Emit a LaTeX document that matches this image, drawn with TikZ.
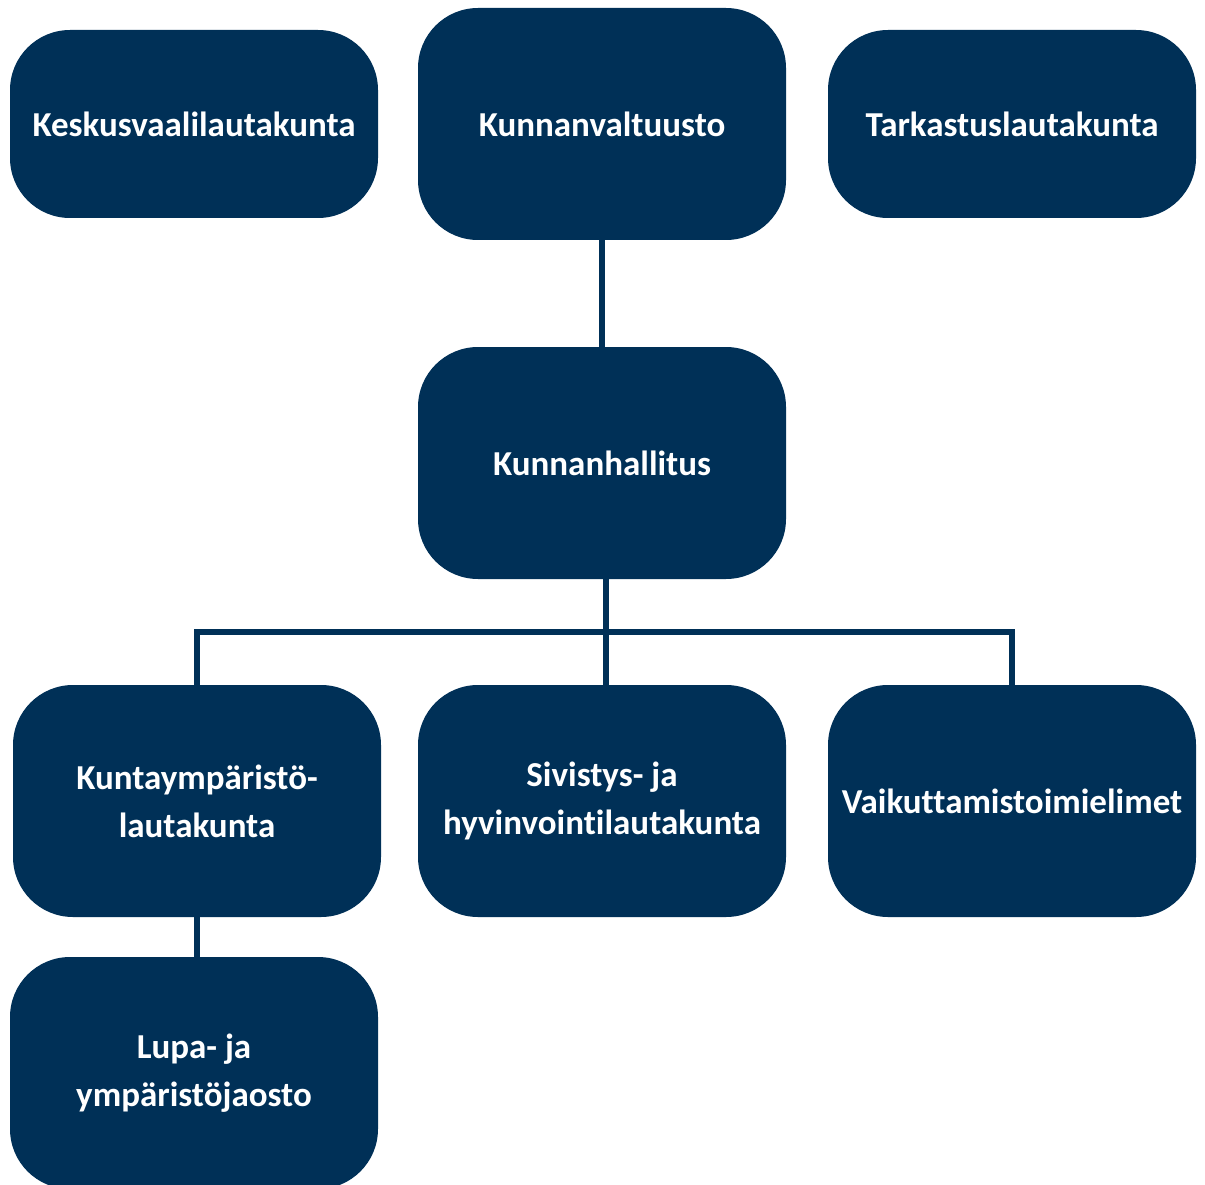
\documentclass[tikz,border=0pt]{standalone}
\usepackage{fontspec}
\setmainfont[Ligatures=NoCommon]{Carlito}
\definecolor{navy}{RGB}{0,48,87}
\begin{document}
\begin{tikzpicture}[x=1pt,y=-1pt,
  org/.style={draw=none,fill=navy,rounded corners=60pt,minimum width=368pt,
    text=white,font=\fontsize{35}{48}\selectfont\bfseries,align=center,inner sep=0pt},
  tall/.style={org,minimum height=232pt},
  short/.style={org,minimum height=188pt},
  link/.style={draw=navy,line width=6.5pt}]
\useasboundingbox (0,0) rectangle (1205,1185);
\begin{scope}
\clip (0,0) rectangle (1205,1185);
\coordinate (j) at (606,632);
\node[short] (kes) at (194,124) {Keskusvaalilautakunta};
\node[tall] (val) at (602,124) {Kunnanvaltuusto};
\node[short] (tar) at (1012,124) {Tarkastuslautakunta};
\node[tall] (hal) at (602,463) {Kunnanhallitus};
\node[tall] (kun) at (197,801) {Kuntaympäristö-\\lautakunta};
\node[tall] (siv) at (602,801) {Sivistys- ja\\hyvinvointilautakunta};
\node[tall] (vai) at (1012,801) {Vaikuttamistoimielimet};
\node[tall] (lup) at (194,1073) {Lupa- ja\\ympäristöjaosto};
\draw[link] (val.south) -- (hal.north);
\draw[link] (hal.south -| j) -- (j);
\draw[link] (kun.north) |- (j) -| (vai.north);
\draw[link] (j) -- (siv.north -| j);
\draw[link] (kun.south) -- (lup.north -| kun.south);
\end{scope}
\end{tikzpicture}
\end{document}
